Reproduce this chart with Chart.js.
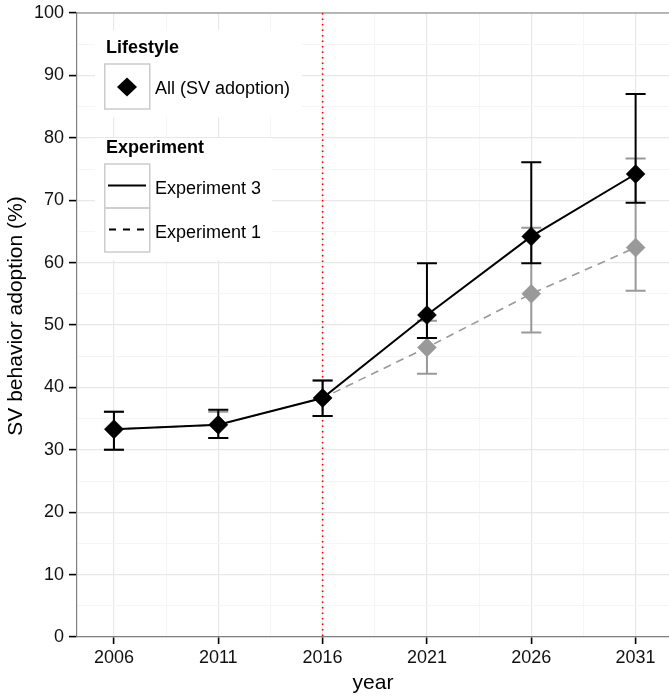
<!DOCTYPE html>
<html>
<head>
<meta charset="utf-8">
<script src="https://cdn.jsdelivr.net/npm/chart.js@4"></script>
<style>
  html, body { margin: 0; padding: 0; background: #fff; }
  #wrap { position: relative; width: 669px; height: 696px; }
</style>
</head>
<body>
<div id="wrap"><canvas id="chart" width="669" height="696"></canvas></div>
<script>
// ---- data ----
const years = [2006, 2011, 2016, 2021, 2026, 2031];

const exp3Mean = [33.3, 34.0, 38.3, 51.6, 64.2, 74.2];
const exp3Lo   = [30.0, 31.9, 35.4, 47.9, 59.9, 69.6];
const exp3Hi   = [36.1, 36.4, 41.1, 59.9, 76.1, 87.0];

const exp1Mean = [33.3, 34.0, 38.3, 46.4, 55.0, 62.4];
const exp1Lo   = [30.0, 31.9, 35.4, 42.2, 48.8, 55.5];
const exp1Hi   = [36.1, 36.1, 41.1, 50.7, 65.6, 76.7];

const xMajorTicks = [2006, 2011, 2016, 2021, 2026, 2031];
const xMinorTicks = [2008.5, 2013.5, 2018.5, 2023.5, 2028.5];
const yMajorTicks = [0, 10, 20, 30, 40, 50, 60, 70, 80, 90, 100];
const yMinorTicks = [5, 15, 25, 35, 45, 55, 65, 75, 85, 95];

const policyYear = 2016;
const lifestyleLabel = 'All (SV adoption)';
const yTitle = 'SV behavior adoption (%)';

const FONT = '"Liberation Sans", Arial, Helvetica, sans-serif';

// ─── helpers ───
const toPoints = (vals) => years.map((y, i) => ({ x: y, y: vals[i] }));
const mergeTicks = (a, b) => [...a, ...b].sort((p, q) => p - q).map(v => ({ value: v }));

// ─── error bars, drawn just under their own dataset ───
const errorBars = {
    id: 'errorBars',
    beforeDatasetDraw(chart, args) {
        const ds = chart.data.datasets[args.index];
        if (!ds.errLo) return;
        const { ctx, scales: { x, y } } = chart;
        ctx.save();
        ctx.setLineDash([]);
        ctx.strokeStyle = ds.borderColor;
        ctx.lineWidth = 2;
        ds.data.forEach((p, i) => {
            const px = x.getPixelForValue(p.x);
            const lo = y.getPixelForValue(ds.errLo[i]);
            const hi = y.getPixelForValue(ds.errHi[i]);
            ctx.beginPath();
            ctx.moveTo(px, lo); ctx.lineTo(px, hi);
            ctx.moveTo(px - 10, lo); ctx.lineTo(px + 10, lo);
            ctx.moveTo(px - 10, hi); ctx.lineTo(px + 10, hi);
            ctx.stroke();
        });
        ctx.restore();
    }
};

// ─── panel border + red policy line ───
const panelExtras = {
    id: 'panelExtras',
    beforeDatasetsDraw(chart) {
        const { ctx, chartArea: a, scales: { x } } = chart;
        ctx.save();
        ctx.strokeStyle = '#7f7f7f';
        ctx.lineWidth = 1.2;
        ctx.beginPath();
        ctx.moveTo(a.left, a.top); ctx.lineTo(a.right, a.top);
        ctx.stroke();

        const px = x.getPixelForValue(policyYear);
        ctx.strokeStyle = '#ff0000';
        ctx.lineWidth = 1.6;
        ctx.setLineDash([1.6, 3.9]);
        ctx.beginPath();
        ctx.moveTo(px, a.top); ctx.lineTo(px, a.bottom);
        ctx.stroke();
        ctx.restore();
    }
};

// ─── ggplot-like legend boxes + rotated y title ───
const ggLegend = {
    id: 'ggLegend',
    afterDraw(chart) {
        const ctx = chart.ctx;
        const [dsA, dsB] = chart.data.datasets;
        ctx.save();
        ctx.fillStyle = '#fff';
        ctx.fillRect(95, 30, 207, 87);
        ctx.fillRect(95, 138, 177, 122);

        ctx.fillStyle = '#000';
        ctx.textBaseline = 'alphabetic';
        ctx.textAlign = 'left';
        ctx.font = 'bold 18px ' + FONT;
        ctx.fillText('Lifestyle', 106, 52.5);
        ctx.fillText('Experiment', 106, 152.5);

        ctx.strokeStyle = '#cccccc';
        ctx.lineWidth = 1.5;
        ctx.strokeRect(104.75, 64, 45, 45);
        ctx.strokeRect(104.75, 164, 45, 44);
        ctx.strokeRect(104.75, 208, 45, 44);

        // diamond key
        ctx.beginPath();
        ctx.moveTo(127, 77.5); ctx.lineTo(137, 87); ctx.lineTo(127, 96.5); ctx.lineTo(117, 87);
        ctx.closePath();
        ctx.fill();

        ctx.strokeStyle = '#000';
        ctx.lineWidth = 2;
        ctx.beginPath();
        ctx.moveTo(108, 185.5); ctx.lineTo(146, 185.5);
        ctx.stroke();
        ctx.setLineDash([7, 7]);
        ctx.beginPath();
        ctx.moveTo(109, 229.5); ctx.lineTo(146, 229.5);
        ctx.stroke();
        ctx.setLineDash([]);

        ctx.font = '18px ' + FONT;
        ctx.fillText(lifestyleLabel, 155, 93.5);
        ctx.fillText(dsA.label, 155, 193.5);
        ctx.fillText(dsB.label, 155, 237.5);

        // y axis title, centred a little above the panel middle as in the reference
        ctx.translate(16, 316);
        ctx.rotate(-Math.PI / 2);
        ctx.textAlign = 'center';
        ctx.textBaseline = 'middle';
        ctx.font = '21px ' + FONT;
        ctx.fillText(yTitle, 0, 0);
        ctx.restore();
    }
};

const ctx = document.getElementById('chart');

new Chart(ctx, {
    type: 'line',
    data: {
        datasets: [
            {
                label: 'Experiment 3',
                data: toPoints(exp3Mean),
                errLo: exp3Lo,
                errHi: exp3Hi,
                borderColor: '#000000',
                backgroundColor: '#000000',
                borderWidth: 2,
                pointStyle: 'rectRot',
                pointRadius: 9.5,
                pointBorderWidth: 0.5,
                pointBackgroundColor: '#000000',
                pointBorderColor: '#000000',
                tension: 0
            },
            {
                label: 'Experiment 1',
                data: toPoints(exp1Mean),
                errLo: exp1Lo,
                errHi: exp1Hi,
                borderColor: '#999999',
                backgroundColor: '#999999',
                borderWidth: 1.6,
                borderDash: [8, 6],
                pointStyle: 'rectRot',
                pointRadius: 9.5,
                pointBorderWidth: 0.5,
                pointBackgroundColor: '#999999',
                pointBorderColor: '#999999',
                tension: 0
            }
        ]
    },
    options: {
        responsive: false,
        animation: false,
        events: [],
        layout: { autoPadding: false, padding: { top: 13, right: 0, left: 0, bottom: 0 } },
        plugins: {
            legend: { display: false },
            tooltip: { enabled: false }
        },
        scales: {
            x: {
                type: 'linear',
                min: 2004.23,
                max: 2032.6,
                afterBuildTicks: (s) => { s.ticks = mergeTicks(xMajorTicks, xMinorTicks); },
                afterFit: (s) => { s.height = 59; s.paddingLeft = 0; s.paddingRight = 0; },
                border: { display: true, color: '#7f7f7f', width: 1.2 },
                grid: {
                    color: (c) => xMajorTicks.includes(c.tick.value) ? '#e8e8e8' : '#f5f5f5',
                    lineWidth: (c) => xMajorTicks.includes(c.tick.value) ? 1.2 : 1,
                    tickColor: (c) => xMajorTicks.includes(c.tick.value) ? '#000' : 'rgba(0,0,0,0)',
                    tickWidth: 1.6,
                    tickLength: 7
                },
                ticks: {
                    autoSkip: false,
                    maxRotation: 0,
                    padding: 3,
                    color: '#111',
                    font: { family: FONT, size: 18 },
                    callback: (v) => xMajorTicks.includes(v) ? String(v) : ''
                },
                title: {
                    display: true,
                    text: 'year',
                    color: '#000',
                    font: { family: FONT, size: 21 },
                    padding: { top: 0, bottom: 0 }
                }
            },
            y: {
                type: 'linear',
                min: 0,
                max: 100,
                afterBuildTicks: (s) => { s.ticks = mergeTicks(yMajorTicks, yMinorTicks); },
                afterFit: (s) => { s.width = 77; s.paddingTop = 0; s.paddingBottom = 0; },
                border: { display: true, color: '#7f7f7f', width: 1.2 },
                grid: {
                    color: (c) => yMajorTicks.includes(c.tick.value) ? '#e8e8e8' : '#f5f5f5',
                    lineWidth: (c) => yMajorTicks.includes(c.tick.value) ? 1.2 : 1,
                    tickColor: (c) => yMajorTicks.includes(c.tick.value) ? '#000' : 'rgba(0,0,0,0)',
                    tickWidth: 1.6,
                    tickLength: 8
                },
                ticks: {
                    autoSkip: false,
                    padding: 5,
                    color: '#111',
                    font: { family: FONT, size: 18 },
                    callback: (v) => yMajorTicks.includes(v) ? String(v) : ''
                }
            }
        }
    },
    plugins: [panelExtras, errorBars, ggLegend]
});
</script>
</body>
</html>
